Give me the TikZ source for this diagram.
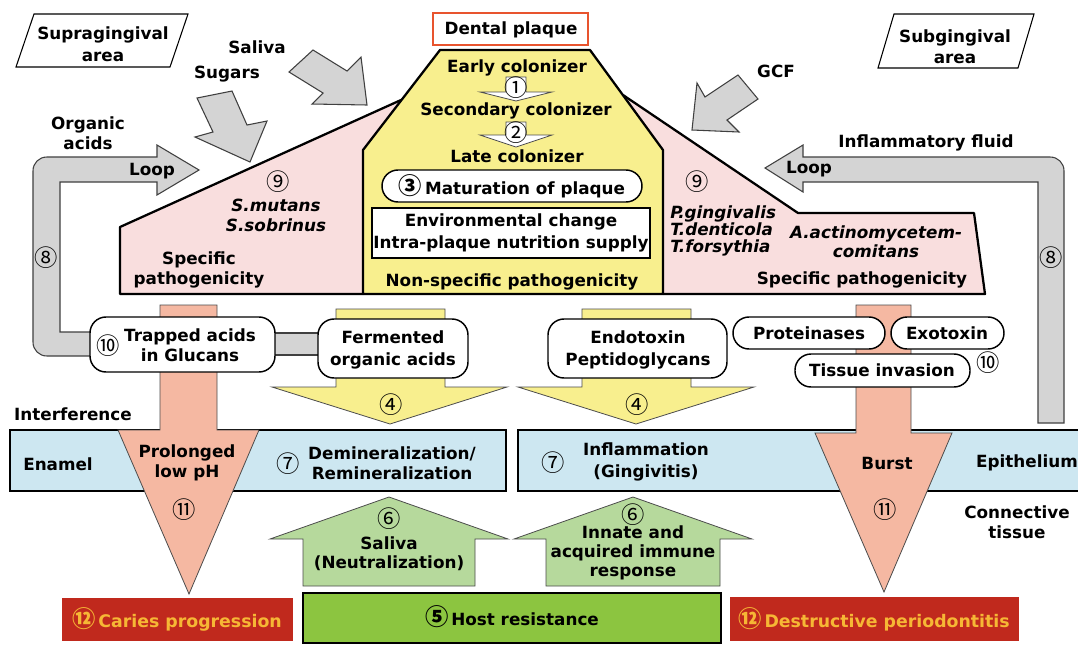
\documentclass[tikz,border=0pt]{standalone}
\usepackage{fontspec}
\setmainfont{DejaVu Sans}[BoldFont={DejaVu Sans Bold},ItalicFont={DejaVu Sans Oblique},BoldItalicFont={DejaVu Sans Bold Oblique}]
\newfontfamily\cjk{Noto Sans CJK JP}
\newcommand{\fs}[1]{\fontsize{12.6pt}{#1pt}\selectfont}
\newcommand{\cn}[1]{{\cjk\fontsize{17.5pt}{17.5pt}\selectfont #1}}
\definecolor{pinkf}{HTML}{F9DEDE}
\definecolor{yellf}{HTML}{F8EF8E}
\definecolor{bluef}{HTML}{CDE7F1}
\definecolor{salmf}{HTML}{F5B8A2}
\definecolor{lgreen}{HTML}{B6D99C}
\definecolor{dgreen}{HTML}{8CC540}
\definecolor{greyf}{HTML}{D4D4D4}
\definecolor{redbox}{HTML}{C0291D}
\definecolor{redtext}{HTML}{F6B735}
\definecolor{plaqbord}{HTML}{E8542E}
\begin{document}
\begin{tikzpicture}[x=0.75pt,y=-0.75pt,
  t/.style={font=\bfseries\fs{#1}, inner sep=0pt, align=center},
  t/.default=15,
  ti/.style={font=\bfseries\itshape\fs{#1}, inner sep=0pt, align=center},
  ti/.default=15,
  num/.style={font=\cjk\fontsize{17.5pt}{17.5pt}\selectfont, inner sep=0pt},
  bigshape/.style={draw=black, line width=1.7pt, line join=round},
  garrow/.style={fill=greyf, draw=black!75, line width=0.8pt},
  rbox/.style={draw=black, line width=1.1pt, fill=white, rounded corners=12pt},
  thinarr/.style={draw=black!70, line width=0.6pt},
  btext/.style={font=\bfseries\fontsize{13pt}{15pt}\selectfont, inner sep=0pt, text=redtext}]
\useasboundingbox (0,0) rectangle (1078,644);
\fill[white] (0,0) rectangle (1078,644);
\begin{scope}
\clip (0,0) rectangle (1078,644);
% pink regions
\fill[pinkf] (401,100) -- (120,227) -- (120,294) -- (363,294) -- (363,150) -- cycle;
\draw[bigshape] (401,100) -- (120,227) -- (120,294) -- (363,294);
\fill[pinkf] (623,95) -- (798,213) -- (974,213) -- (985,294) -- (663,294) -- (663,150) -- cycle;
\draw[bigshape] (623,95) -- (798,213) -- (974,213) -- (985,294) -- (663,294);
% yellow plaque shape
\draw[bigshape, fill=yellf] (440,50) -- (590,50) -- (663,150) -- (663,294) -- (363,294) -- (363,150) -- cycle;
% small arrows
\draw[thinarr, fill=white] (506,77) -- (526,77) -- (526,92) -- (552,92) -- (516,101) -- (480,92) -- (506,92) -- cycle;
\draw[thinarr, fill=white] (506,122) -- (526,122) -- (526,135) -- (552,135) -- (516,147) -- (480,135) -- (506,135) -- cycle;
\draw[draw=black, line width=1.1pt, fill=white, rounded corners=12pt] (382,170) rectangle (642,202);
\draw[draw=black, line width=1.1pt, fill=white] (372,208) rectangle (650,258);
% dental plaque box
\draw[draw=plaqbord, line width=2pt, fill=white] (433,13) rectangle (588,45);
% area labels
\draw[black, line width=0.8pt, fill=white] (34,14) -- (188,14) -- (170,67) -- (16,67) -- cycle;
\draw[black, line width=0.8pt, fill=white] (894,14) -- (1034,14) -- (1018,68) -- (878,68) -- cycle;
% grey input arrows
\draw[garrow] (289,72) -- (313,50) -- (347,71) -- (361,57) -- (367,105) -- (312,104) -- (323,93) -- cycle;
\draw[garrow] (197,98) -- (232,91) -- (247,125) -- (267,121) -- (250,162) -- (195,137) -- (213,132) -- cycle;
\draw[garrow] (738,75) -- (758,99) -- (727,120) -- (739,132) -- (692,130) -- (697,83) -- (705,97) -- cycle;
% loops
\draw[garrow] (199,170) -- (157,145) -- (157,157) -- (47,157) .. controls (39,157) and (33,163) .. (33,171) -- (33,342) .. controls (33,350) and (39,356) .. (47,356) -- (92,356) -- (92,332) -- (60,332) -- (60,182) -- (157,182) -- (157,195) -- cycle;
\draw[garrow] (765,168) -- (803,145) -- (803,157) -- (1050,157) .. controls (1058,157) and (1064,163) .. (1064,171) -- (1064,423) -- (1038,423) -- (1038,182) -- (803,182) -- (803,192) -- cycle;
% blue bands
\draw[draw=black, line width=1.8pt, fill=bluef] (10,430) rectangle (506,491);
\draw[draw=black, line width=1.8pt, fill=bluef] (518,430) rectangle (1090,491);
% yellow arrows 4
\draw[thinarr, fill=yellf] (336,309) -- (445,309) -- (445,387) -- (507,387) -- (390,424) -- (272,387) -- (336,387) -- cycle;
\draw[thinarr, fill=yellf] (582,309) -- (691,309) -- (691,387) -- (754,387) -- (636,424) -- (518,387) -- (582,387) -- cycle;
% salmon arrows
\draw[thinarr, fill=salmf] (160,305) -- (217,305) -- (217,430) -- (259,430) -- (189,594) -- (118,430) -- (160,430) -- cycle;
\draw[thinarr, fill=salmf] (856,305) -- (911,305) -- (911,433) -- (952,433) -- (884,592) -- (815,433) -- (856,433) -- cycle;
% green arrows
\draw[thinarr, fill=lgreen] (389,497) -- (508,539) -- (475,539) -- (475,586) -- (303,586) -- (303,539) -- (270,539) -- cycle;
\draw[thinarr, fill=lgreen] (633,497) -- (752,539) -- (720,539) -- (720,586) -- (546,586) -- (546,539) -- (514,539) -- cycle;
% grey connector and boxes
\draw[garrow] (270,333) rectangle (322,355);
\draw[rbox] (90,317) rectangle (275,372);
\draw[rbox] (318,319) rectangle (468,378);
\draw[rbox] (548,319) rectangle (727,378);
\draw[rbox] (733,317) rectangle (885,349);
\draw[rbox] (891,317) rectangle (1004,349);
\draw[rbox] (795,354) rectangle (970,387);
% bottom boxes
\fill[redbox] (62,598) rectangle (293,641);
\draw[draw=black, line width=1.8pt, fill=dgreen] (303,593) rectangle (721,643);
\fill[redbox] (730,597) rectangle (1019,641);
\end{scope}
% texts
\node[t] (dp) at (511,30) {Dental plaque};
\node[t=16.5] (supra) at (103,44) {Supragingival\\area};
\node[t=16] (subg) at (955,47) {Subgingival\\area};
\node[t] (sal) at (257,47) {Saliva};
\node[t] (sug) at (227,74) {Sugars};
\node[t] (org) at (88,133) {Organic\\acids};
\node[t] (gcf) at (776,71) {GCF};
\node[t] (infl) at (926,143) {Inflammatory fluid};
\node[t] (loopl) at (152,171) {Loop};
\node[t] (loopr) at (809,169) {Loop};
\node[num] (n8l) at (46,258) {⑧};
\node[num] (n8r) at (1051,258) {⑧};
\node[t] (early) at (517,68) {Early colonizer};
\node[num] (n1) at (516,88) {①};
\node[t] (second) at (516,111) {Secondary colonizer};
\node[num] (n2) at (516,133) {②};
\node[t] (late) at (517,156) {Late colonizer};
\node[t] (mat) at (512,186) {\cn{③}\,Maturation of plaque};
\node[t=17] (env) at (511,233) {Environmental change\\Intra-plaque nutrition supply};
\node[t] (nonspec) at (512,282) {Non-specific pathogenicity};
\node[num] (n9l) at (278,182) {⑨};
\node[ti] (smut) at (276,215) {S.mutans\\S.sobrinus};
\node[t=14.5] (specl) at (199,270) {Specific\\pathogenicity};
\node[num] (n9r) at (697,182) {⑨};
\node[ti=12.8, align=left, anchor=west] (pging) at (670,231) {P.gingivalis\\T.denticola\\T.forsythia};
\node[ti=14.3] (aact) at (876,242) {A.actinomycetem-\\comitans};
\node[t] (specr) at (862,280) {Specific pathogenicity};
\node[t=17] (ferm) at (393,350) {Fermented\\organic acids};
\node[t=17] (endo) at (638,350) {Endotoxin\\Peptidoglycans};
\node[num] (n10l) at (108,346) {⑩};
\node[t] (trap) at (190,345) {Trapped acids\\in Glucans};
\node[t] (prot) at (809,333) {Proteinases};
\node[t] (exo) at (947,333) {Exotoxin};
\node[t] (tiss) at (882,370) {Tissue invasion};
\node[num] (n10r) at (988,363) {⑩};
\node[num] (n4l) at (391,405) {④};
\node[num] (n4r) at (637,405) {④};
\node[t] (interf) at (73,414) {Interference};
\node[t] (enam) at (58,464) {Enamel};
\node[t] (prol) at (187,463) {Prolonged\\low pH};
\node[num] (n11l) at (184,510) {⑪};
\node[num] (n7l) at (288,464) {⑦};
\node[t] (demin) at (392,463) {Demineralization/\\Remineralization};
\node[num] (n7r) at (553,463) {⑦};
\node[t=17] (inflam) at (646,462) {Inflammation\\(Gingivitis)};
\node[t] (burst) at (887,463) {Burst};
\node[num] (n11r) at (885,510) {⑪};
\node[t] (epi) at (1027,463) {Epithelium};
\node[t] (conn) at (1017,522) {Connective\\tissue};
\node[num] (n6l) at (389,519) {⑥};
\node[t=14.5] (salneu) at (389,554) {Saliva\\(Neutralization)};
\node[num] (n6r) at (633,515) {⑥};
\node[t=14] (innate) at (633,553) {Innate and\\acquired immune\\response};
\node[btext] (caries) at (177,619) {\cn{⑫}\,Caries progression};
\node[t] (host) at (512,617) {\cn{⑤}\,Host resistance};
\node[btext] (destr) at (874,619) {\cn{⑫}\,Destructive periodontitis};
\end{tikzpicture}
\end{document}
